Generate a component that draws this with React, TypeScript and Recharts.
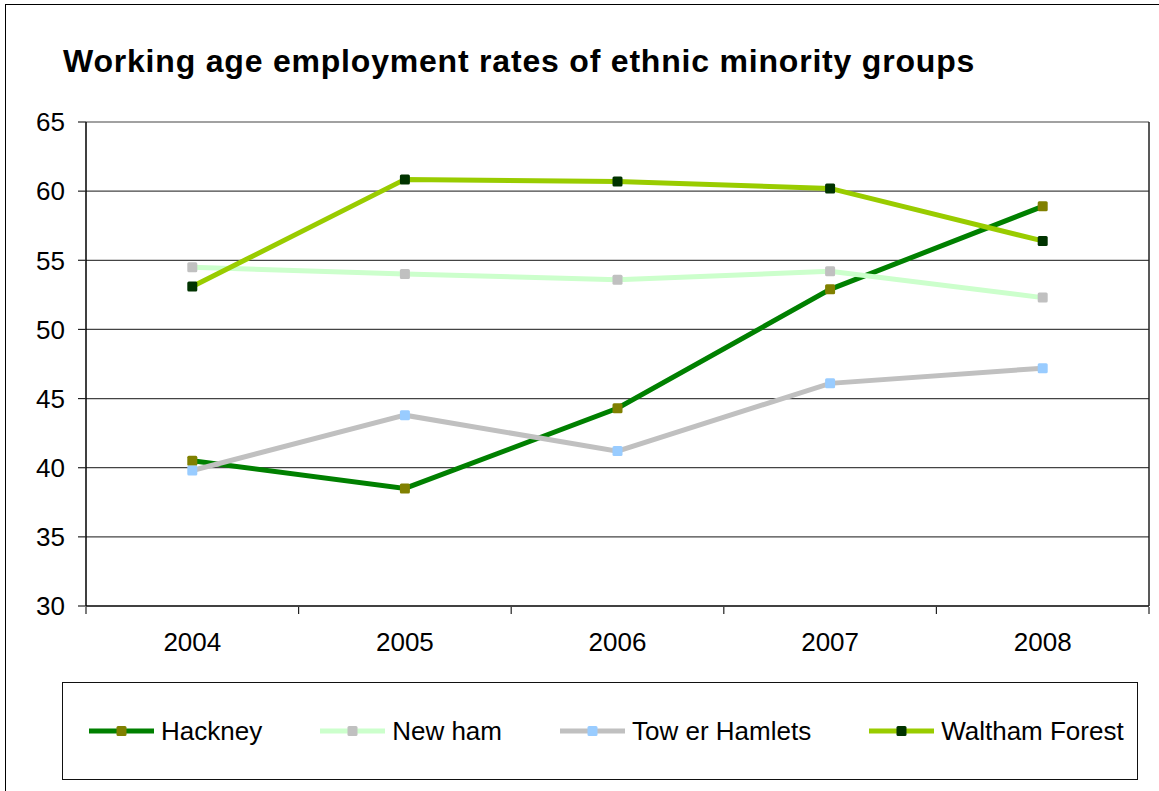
import React from 'react';
import { LineChart, Line, XAxis, YAxis, CartesianGrid, ReferenceLine } from 'recharts';

const YEARS = ['2004', '2005', '2006', '2007', '2008'];
const HACKNEY = [40.5, 38.5, 44.3, 52.9, 58.9];
const NEWHAM = [54.5, 54.0, 53.6, 54.2, 52.3];
const TOWER_HAMLETS = [39.8, 43.8, 41.2, 46.1, 47.2];
const WALTHAM_FOREST = [53.1, 60.85, 60.7, 60.2, 56.4];
const Y_TICKS = [30, 35, 40, 45, 50, 55, 60, 65];

const SERIES = [
    { key: 'hackney', name: 'Hackney', values: HACKNEY, line: '#008000', marker: '#808000' },
    { key: 'newham', name: 'New ham', values: NEWHAM, line: '#CCFFCC', marker: '#C0C0C0' },
    { key: 'tower', name: 'Tow er Hamlets', values: TOWER_HAMLETS, line: '#C0C0C0', marker: '#99CCFF' },
    { key: 'waltham', name: 'Waltham Forest', values: WALTHAM_FOREST, line: '#99CC00', marker: '#003300' },
];

// idx is the band position of each year, read by the hidden "edge" axis
const data = YEARS.map((year, i) => {
    const row: Record<string, string | number> = { year, idx: i + 0.5 };
    SERIES.forEach(s => { row[s.key] = s.values[i]; });
    return row;
});

// boundaries between the year bands, used for the x tick marks and the right frame
const EDGE_TICKS = YEARS.map((_, i) => i).concat(YEARS.length);

const FONT = '"Liberation Sans", Arial, sans-serif';

const squareDot = (fill: string) => (props: any) => {
    const { cx, cy, index } = props;
    if (cx == null || cy == null) return <g key={index} />;
    return <rect key={index} x={cx - 5} y={cy - 5} width={10} height={10} rx={1.5} fill={fill} />;
};

const NoLabel = () => <g />;

const App: React.FC = () => {
    return (
        <div style={{ position: 'fixed', left: 0, top: 0, width: 1159, height: 791, overflow: 'hidden', background: '#fff', fontFamily: FONT }}>
            <div style={{ position: 'absolute', left: 5, top: 4, width: 1160, height: 800, borderLeft: '1.5px solid #000', borderTop: '1.5px solid #000' }} />
            <div style={{ position: 'absolute', left: 63, top: 45, fontSize: 32, lineHeight: '32px', fontWeight: 'bold', letterSpacing: 0.8, color: '#000', whiteSpace: 'nowrap' }}>
                Working age employment rates of ethnic minority groups
            </div>
            <div style={{ position: 'absolute', left: 0, top: 0 }}>
                <LineChart width={1159} height={791} data={data} margin={{ top: 122, right: 10, bottom: 182, left: 0 }}>
                    <CartesianGrid vertical={false} stroke="#444" strokeWidth={1.2} />
                    <XAxis
                        xAxisId="edge"
                        dataKey="idx"
                        type="number"
                        domain={[0, YEARS.length]}
                        ticks={EDGE_TICKS}
                        interval={0}
                        allowDataOverflow
                        height={2}
                        tick={<NoLabel />}
                        axisLine={false}
                        tickSize={7}
                        tickLine={{ stroke: '#222', strokeWidth: 1.2 }}
                    />
                    <XAxis
                        dataKey="year"
                        scale="band"
                        interval={0}
                        height={1}
                        tickLine={false}
                        tickSize={7}
                        tickMargin={20}
                        axisLine={{ stroke: '#222', strokeWidth: 1.5 }}
                        tick={{ fill: '#000', fontSize: 26, fontFamily: FONT }}
                    />
                    <YAxis
                        domain={[30, 65]}
                        ticks={Y_TICKS}
                        interval={0}
                        width={86}
                        tickSize={8}
                        tickMargin={13}
                        axisLine={{ stroke: '#000', strokeWidth: 1.5 }}
                        tickLine={{ stroke: '#222', strokeWidth: 1.2 }}
                        tick={{ fill: '#000', fontSize: 26, fontFamily: FONT }}
                    />
                    <ReferenceLine xAxisId="edge" x={YEARS.length} stroke="#222" strokeWidth={1.5} ifOverflow="visible" />
                    {SERIES.map(s => (
                        <Line
                            key={s.key}
                            dataKey={s.key}
                            name={s.name}
                            stroke={s.line}
                            strokeWidth={5}
                            dot={squareDot(s.marker)}
                            activeDot={false}
                            isAnimationActive={false}
                        />
                    ))}
                </LineChart>
            </div>
            <div style={{ position: 'absolute', left: 62, top: 682, width: 1076, height: 98, boxSizing: 'border-box', border: '1.5px solid #111', display: 'flex', alignItems: 'center', paddingLeft: 26 }}>
                {SERIES.map(s => (
                    <div key={s.key} style={{ display: 'flex', alignItems: 'center', marginRight: 58 }}>
                        <svg width={65} height={12} style={{ marginRight: 7 }}>
                            <line x1={0} y1={6} x2={65} y2={6} stroke={s.line} strokeWidth={5} strokeLinecap="round" />
                            <rect x={27.5} y={1} width={10} height={10} rx={1.5} fill={s.marker} />
                        </svg>
                        <span style={{ fontSize: 26, color: '#000', whiteSpace: 'nowrap' }}>{s.name}</span>
                    </div>
                ))}
            </div>
        </div>
    );
};

export default App;
